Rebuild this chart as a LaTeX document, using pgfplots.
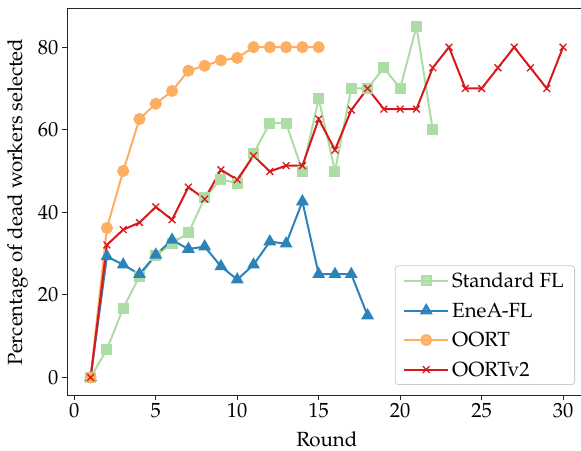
\documentclass[border=0pt]{standalone}
\usepackage{fontspec}
\setmainfont{TeX Gyre Pagella}
\usepackage{pgfplots}
\pgfplotsset{compat=1.18}

\definecolor{stdfl}{HTML}{ABDDA4}
\definecolor{enea}{HTML}{2B83BA}
\definecolor{oort}{HTML}{FDAE61}
\definecolor{oortv}{HTML}{D7191C}
\definecolor{spine}{HTML}{262626}

\newcommand{\chartfont}{\fontsize{20.5bp}{24bp}\selectfont}

\begin{document}
\begin{tikzpicture}
\begin{axis}[
    at={(67bp,56bp)}, anchor=south west,
    scale only axis,
    width=519.7bp, height=386bp,
    xmin=-0.45, xmax=31.45,
    ymin=-4.25, ymax=89.25,
    xtick={0,5,10,15,20,25,30},
    ytick={0,20,40,60,80},
    xtick pos=bottom, ytick pos=left,
    tick align=outside,
    major tick length=5bp,
    axis line style={draw=spine, line width=1bp},
    tick style={draw=spine, line width=1bp},
    /pgf/number format/assume math mode=true,
    tick label style={font=\chartfont},
    label style={font=\chartfont},
    xlabel={Round},
    ylabel={Percentage of dead workers selected},
    xlabel style={at={(axis description cs:0.5,-0.114)}, anchor=center, inner sep=0pt},
    ylabel style={at={(axis description cs:-0.095,0.5)}, anchor=center, inner sep=0pt},
    legend style={at={(0.9775,0.026)}, anchor=south east, font=\chartfont,
        draw=black!20, line width=0.8bp, rounded corners=3bp,
        fill=white, fill opacity=0.8, text opacity=1,
        inner xsep=8bp, inner ysep=5bp, row sep=9.5bp,
        nodes={inner xsep=3bp, inner ysep=2bp},
        /tikz/every even column/.append style={column sep=15bp}},
    legend cell align=left,
    legend image code/.code={
        \draw[mark repeat=2,mark phase=2] plot coordinates {(0bp,0bp)(22bp,0bp)(44bp,0bp)};
    },
    every axis plot/.append style={line width=2bp},
]

% Standard FL
\addplot[color=stdfl, mark=square*, mark size=4.5bp]
coordinates {
(1,0)(2,6.8)(3,16.8)(4,24.5)(5,29.5)(6,32.5)(7,35)(8,43.5)(9,48)(10,47)
(11,54.3)(12,61.6)(13,61.6)(14,50)(15,67.5)(16,50)(17,70)(18,70)(19,75)(20,70)
(21,85)(22,60)
};

% EneA-FL
\addplot[color=enea, mark=triangle*, mark size=5.5bp]
coordinates {
(1,0)(2,29.3)(3,27.3)(4,25)(5,29.7)(6,33.3)(7,31.1)(8,31.7)(9,26.9)(10,23.7)
(11,27.3)(12,32.9)(13,32.4)(14,42.6)(15,25)(16,25)(17,25)(18,15)
};

% OORT
\addplot[color=oort, mark=*, mark size=5bp]
coordinates {
(1,0)(2,36.2)(3,50)(4,62.6)(5,66.3)(6,69.4)(7,74.3)(8,75.5)(9,76.8)(10,77.4)
(11,80)(12,80)(13,80)(14,80)(15,80)
};

% OORTv2
\addplot[color=oortv, mark=x, mark size=4.8bp, mark options={line width=1.3bp}]
coordinates {
(1,0)(2,32.1)(3,35.8)(4,37.5)(5,41.3)(6,38.2)(7,46.1)(8,43.2)(9,50.3)(10,47.9)
(11,53.7)(12,49.9)(13,51.3)(14,51.3)(15,62.6)(16,55.1)(17,64.8)(18,70)(19,65)(20,65)
(21,65)(22,75)(23,80)(24,70)(25,70)(26,75)(27,80)(28,75)(29,70)(30,80)
};

\legend{Standard FL, EneA-FL, OORT, OORTv2}
\end{axis}
\pgfresetboundingbox
\useasboundingbox (0,0) rectangle (581bp,451bp);
\end{tikzpicture}
\end{document}
